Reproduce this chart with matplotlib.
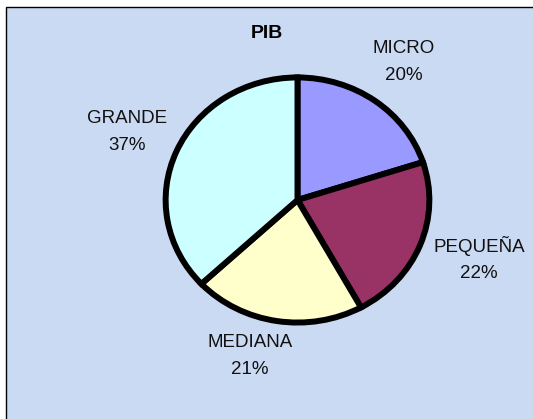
import matplotlib.pyplot as plt
from matplotlib.patches import Rectangle

categorias = ["MICRO", "PEQUEÑA", "MEDIANA", "GRANDE"]
porcentajes = [20, 22, 21, 37]
colores = ["#9999FF", "#993366", "#FFFFCC", "#CCFFFF"]
titulo = "PIB"

# label centres in pixels (x, y from top)
posLabels = [(404, 62), (479, 259), (250, 356), (127, 132)]

W, H = 533, 419
fig = plt.figure(figsize=(W / 100, H / 100), dpi=100)
plt.rcParams['font.family'] = ['Liberation Sans', 'DejaVu Sans']

bg = fig.add_axes([0, 0, 1, 1])
bg.set_xlim(0, W)
bg.set_ylim(H, 0)
bg.axis("off")
bg.add_patch(Rectangle((0, 0), W, H, facecolor="white", edgecolor="none"))
bg.add_patch(Rectangle((5.5, 7.5), W + 10, H + 10, facecolor="#CBDAF3",
                       edgecolor="black", linewidth=1.0))

bg.text(267, 33, titulo, ha="center", va="center", fontsize=14, fontweight="bold")
for cat, pct, (x, y) in zip(categorias, porcentajes, posLabels):
    bg.text(x, y, cat + "\n" + str(pct) + "%", ha="center", va="center",
            fontsize=13.5, linespacing=1.7, color="#111111")

ax = fig.add_axes([163 / W, 1 - 325 / H, 269 / W, 250 / H])
ax.pie(porcentajes, colors=colores, startangle=90, counterclock=False,
       wedgeprops=dict(edgecolor="black", linewidth=4.3))
ax.set_aspect("auto")
ax.set_xlim(-1.02, 1.02)
ax.set_ylim(-1.02, 1.02)
ax.axis("off")

plt.savefig("out.png", dpi=100)
plt.close()
